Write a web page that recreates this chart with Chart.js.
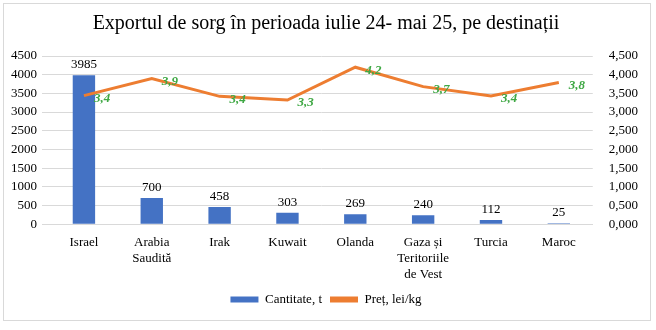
<!DOCTYPE html>
<html>
<head>
<meta charset="utf-8">
<script src="https://cdn.jsdelivr.net/npm/chart.js@4"></script>
<style>
  html, body { margin: 0; padding: 0; background: #fff; }
  #wrap { position: absolute; left: 3px; top: 3px; width: 648px; height: 318px; border: 1px solid #d9d9d9; box-sizing: border-box; }
</style>
</head>
<body>
<div id="wrap"><canvas id="chart"></canvas></div>
<script>
const categories = ['Israel', ['Arabia', 'Saudită'], 'Irak', 'Kuwait', 'Olanda', ['Gaza și', 'Teritoriile', 'de Vest'], 'Turcia', 'Maroc'];
const quantity = [3985, 700, 458, 303, 269, 240, 112, 25];
const price = [3.44, 3.9, 3.42, 3.32, 4.2, 3.68, 3.43, 3.79];
const leftTicks = [0, 500, 1000, 1500, 2000, 2500, 3000, 3500, 4000, 4500];
const rightTicks = [0, 0.5, 1, 1.5, 2, 2.5, 3, 3.5, 4, 4.5];

const serif = "'Liberation Serif', 'Times New Roman', serif";

// draws the value labels like excel does
const valueLabels = {
  id: 'valueLabels',
  afterDatasetsDraw(chart) {
    const c = chart.ctx;
    c.save();
    let bars = chart.getDatasetMeta(0);
    c.font = '13px ' + serif;
    c.fillStyle = '#000';
    c.textAlign = 'center';
    c.textBaseline = 'bottom';
    bars.data.forEach((el, i) => {
      c.fillText(String(quantity[i]), el.x, el.y - 4);
    });
    let line = chart.getDatasetMeta(1);
    c.font = 'italic bold 13px ' + serif;
    c.fillStyle = '#3FA844';
    c.textAlign = 'left';
    c.textBaseline = 'middle';
    line.data.forEach((el, i) => {
      c.fillText(price[i].toFixed(1).replace('.', ','), el.x + 10, el.y + 3);
    });
    c.restore();
  }
};

let ctx = document.getElementById('chart').getContext('2d');
let chart = new Chart(ctx, {
  type: 'bar',
  data: {
    labels: categories,
    datasets: [{
        label: 'Cantitate, t',
        data: quantity,
        backgroundColor: '#4472C4',
        yAxisID: 'y',
        categoryPercentage: 1,
        barPercentage: 0.33,
        order: 2
      },
      {
        type: 'line',
        label: 'Preț, lei/kg',
        data: price,
        borderColor: '#ED7D31',
        backgroundColor: '#ED7D31',
        borderWidth: 3,
        pointRadius: 0,
        tension: 0,
        yAxisID: 'y1',
        order: 1
      }
    ]
  },
  options: {
    responsive: true,
    maintainAspectRatio: false,
    animation: false,
    layout: { padding: { left: 2, right: 4, top: 0, bottom: 4 } },
    scales: {
      x: {
        grid: { display: false },
        border: { color: '#d9d9d9' },
        ticks: { color: '#000', font: { family: serif, size: 13 }, maxRotation: 0, autoSkip: false, padding: 3 }
      },
      y: {
        position: 'left',
        min: 0,
        max: 4500,
        afterBuildTicks: axis => { axis.ticks = leftTicks.map(v => ({ value: v })); },
        grid: { color: '#d9d9d9' },
        border: { display: false },
        ticks: { color: '#000', font: { family: serif, size: 13 }, padding: 5, callback: v => String(v) }
      },
      y1: {
        position: 'right',
        min: 0,
        max: 4.5,
        afterBuildTicks: axis => { axis.ticks = rightTicks.map(v => ({ value: v })); },
        grid: { display: false },
        border: { display: false },
        ticks: {
          color: '#000',
          font: { family: serif, size: 13 },
          padding: 8,
          callback: v => v.toFixed(3).replace('.', ',')
        }
      }
    },
    plugins: {
      title: {
        display: true,
        text: 'Exportul de sorg în perioada iulie 24- mai 25, pe destinații',
        color: '#000',
        font: { family: serif, size: 20, weight: 'normal' },
        padding: { top: 8, bottom: 20 }
      },
      legend: {
        position: 'bottom',
        labels: {
          color: '#000',
          font: { family: serif, size: 13 },
          boxWidth: 28,
          boxHeight: 6,
          padding: 8,
          generateLabels: chart => chart.data.datasets.map((ds, i) => ({
            text: ds.label,
            fillStyle: i === 0 ? '#4472C4' : '#ED7D31',
            strokeStyle: i === 0 ? '#4472C4' : '#ED7D31',
            lineWidth: 0,
            datasetIndex: i
          }))
        }
      },
      tooltip: { enabled: false }
    }
  },
  plugins: [valueLabels]
});
</script>
</body>
</html>
